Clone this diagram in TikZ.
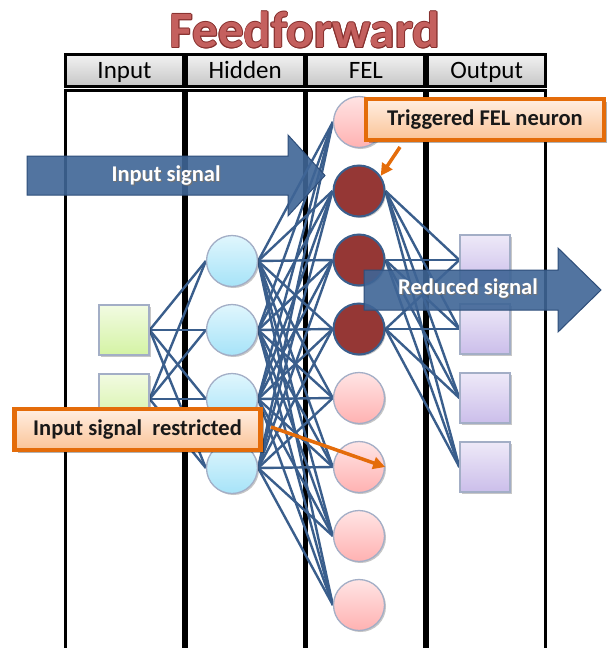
\documentclass[tikz,border=0pt]{standalone}
\usepackage{fontspec}
\setmainfont{Carlito}
\usetikzlibrary{shadows,arrows.meta}

\definecolor{wireblue}{HTML}{3A5E8C}
\definecolor{sigblue}{HTML}{3F6596}
\definecolor{sigedge}{HTML}{2E4E7A}
\definecolor{darkred}{HTML}{953735}
\definecolor{pinktop}{HTML}{FFE4E4}
\definecolor{pinkbot}{HTML}{FFB1B1}
\definecolor{nodeedge}{HTML}{A3AEC6}
\definecolor{bluetop}{HTML}{E0F6FD}
\definecolor{bluebot}{HTML}{A6E3F8}
\definecolor{greentop}{HTML}{F2FBE2}
\definecolor{greenbot}{HTML}{D4F3A4}
\definecolor{purpletop}{HTML}{EEE9F8}
\definecolor{purplebot}{HTML}{CBBEEA}
\definecolor{callorange}{HTML}{E46C0A}
\definecolor{peachtop}{HTML}{FFEEE2}
\definecolor{peachbot}{HTML}{FBC497}
\definecolor{titlered}{HTML}{C4605E}
\definecolor{titleedge}{HTML}{86302E}
\definecolor{headtop}{HTML}{F2F2F2}
\definecolor{headbot}{HTML}{C6C6C6}

% text with a thin outline drawn from offset copies
\newcommand\outlinedtext[3]{%
  \makebox[0pt][l]{\hspace*{-.9pt}\textcolor{#1}{#3}}%
  \makebox[0pt][l]{\hspace*{.9pt}\textcolor{#1}{#3}}%
  \makebox[0pt][l]{\raisebox{.9pt}{\textcolor{#1}{#3}}}%
  \makebox[0pt][l]{\raisebox{-.9pt}{\textcolor{#1}{#3}}}%
  \makebox[0pt][l]{\hspace*{-.65pt}\raisebox{.65pt}{\textcolor{#1}{#3}}}%
  \makebox[0pt][l]{\hspace*{.65pt}\raisebox{.65pt}{\textcolor{#1}{#3}}}%
  \makebox[0pt][l]{\hspace*{-.65pt}\raisebox{-.65pt}{\textcolor{#1}{#3}}}%
  \makebox[0pt][l]{\hspace*{.65pt}\raisebox{-.65pt}{\textcolor{#1}{#3}}}%
  \textcolor{#2}{#3}}
% white text with a soft dark shadow
\newcommand\shadowedwhite[1]{%
  \makebox[0pt][l]{\hspace*{1.2pt}\raisebox{-1.2pt}{\textcolor{black!55}{#1}}}%
  \textcolor{white}{#1}}

\pgfdeclarelayer{grid}
\pgfdeclarelayer{wiring}
\pgfsetlayers{grid,wiring,main}

\begin{document}
\begin{tikzpicture}[x=1pt,y=-1pt,
  softshadow/.style={drop shadow={shadow xshift=1.5pt,shadow yshift=-1.5pt,opacity=0.22,fill=black}},
  headcell/.style={rectangle,minimum width=118pt,minimum height=32pt,inner sep=0pt,
    draw=black,line width=3pt,top color=headtop,bottom color=headbot,
    font=\fontsize{25}{30}\selectfont,text height=18pt,text depth=3pt},
  colcell/.style={rectangle,minimum width=118pt,minimum height=590pt,inner sep=0pt,
    draw=black,line width=3pt,fill=white},
  wire/.style={draw=wireblue,line width=2.4pt},
  insq/.style={rectangle,minimum size=50pt,inner sep=0pt,draw=nodeedge,line width=1.3pt,
    top color=greentop,bottom color=greenbot,softshadow},
  outsq/.style={rectangle,minimum size=50pt,inner sep=0pt,draw=nodeedge,line width=1.3pt,
    top color=purpletop,bottom color=purplebot,softshadow},
  hid/.style={circle,minimum size=51pt,inner sep=0pt,draw=nodeedge,line width=1.3pt,
    top color=bluetop,bottom color=bluebot,softshadow},
  felpink/.style={circle,minimum size=51pt,inner sep=0pt,draw=nodeedge,line width=1.3pt,
    top color=pinktop,bottom color=pinkbot,softshadow},
  feldark/.style={circle,minimum size=51pt,inner sep=0pt,draw=wireblue,line width=2pt,
    fill=darkred,softshadow},
  sigarrow/.style={fill=sigblue,fill opacity=0.9,draw=sigedge,line width=1pt},
  sigtext/.style={font=\bfseries\fontsize{22.5}{26}\selectfont,inner sep=0pt},
  callout/.style={rectangle,inner sep=0pt,draw=callorange,line width=4.5pt,
    top color=peachtop,bottom color=peachbot,
    drop shadow={shadow xshift=3pt,shadow yshift=-3pt,opacity=0.3,fill=black},
    font=\bfseries\fontsize{22.5}{26}\selectfont,text=black!90},
  callarrow/.style={draw=callorange,line width=3.5pt,
    -{Triangle[length=12pt,width=12pt]}}
]
\useasboundingbox (0,0) rectangle (608,648);

% title
\node[font=\bfseries\fontsize{51}{56}\selectfont,inner sep=0pt] (title) at (305,30)
  {\outlinedtext{titleedge}{titlered}{Feedforward}};

% table of the four layers
\begin{pgfonlayer}{grid}
  \node[colcell] (cInput)  at (124.5,385) {};
  \node[colcell] (cHidden) at (245.2,385) {};
  \node[colcell] (cFEL)    at (365.9,385) {};
  \node[colcell] (cOutput) at (486.6,385) {};
  \node[headcell] (hInput)  at (124.5,70.5) {Input};
  \node[headcell] (hHidden) at (245.2,70.5) {Hidden};
  \node[headcell] (hFEL)    at (365.9,70.5) {FEL};
  \node[headcell] (hOutput) at (486.6,70.5) {Output};
\end{pgfonlayer}

% neurons
\node[insq] (in1) at (124,330) {};
\node[insq] (in2) at (124,399) {};
\foreach \k/\y in {1/261,2/330,3/399,4/468}
  \node[hid] (h\k) at (232,\y) {};
\foreach \k/\y in {1/122,5/398,6/467,7/536,8/605}
  \node[felpink] (f\k) at (359,\y) {};
\foreach \k/\y in {2/191,3/260,4/329}
  \node[feldark] (f\k) at (359,\y) {};
\foreach \k/\y in {1/260,2/329,3/398,4/467}
  \node[outsq] (o\k) at (485,\y) {};

% connections
\begin{pgfonlayer}{wiring}
  \foreach \i in {1,2}
    \foreach \j in {1,...,4}
      \draw[wire] (in\i.east) -- (h\j.west);
  \foreach \i in {1,...,4}
    \foreach \j in {1,...,8}
      \draw[wire] (h\i.east) -- (f\j.west);
  \foreach \i in {2,3,4}
    \foreach \j in {1,...,4}
      \draw[wire] (f\i.east) -- (o\j.west);
\end{pgfonlayer}

% signal arrows
\draw[sigarrow] (27,156) -- (288,156) -- (288,135) -- (325,175.5) -- (288,216)
  -- (288,195) -- (27,195) -- cycle;
\node[sigtext] (insig) at (166,176) {\shadowedwhite{Input signal}};
\draw[sigarrow] (364,270) -- (558,270) -- (558,248) -- (601,290) -- (558,332)
  -- (558,310) -- (364,310) -- cycle;
\node[sigtext] (redsig) at (468,289) {\shadowedwhite{Reduced signal}};

% callouts
\node[callout,minimum width=238pt,minimum height=41pt] (trig) at (485,119.5)
  {Triggered FEL neuron};
\node[callout,minimum width=246pt,minimum height=41pt] (restr) at (137.5,429.5)
  {Input signal~ restricted};
\coordinate (trigfoot) at (400,147);
\coordinate (restrfoot) at (271,427);
\draw[callarrow] (trigfoot) -- (f2.35);
\draw[callarrow] (restrfoot) -- (f6.east);
\end{tikzpicture}
\end{document}
